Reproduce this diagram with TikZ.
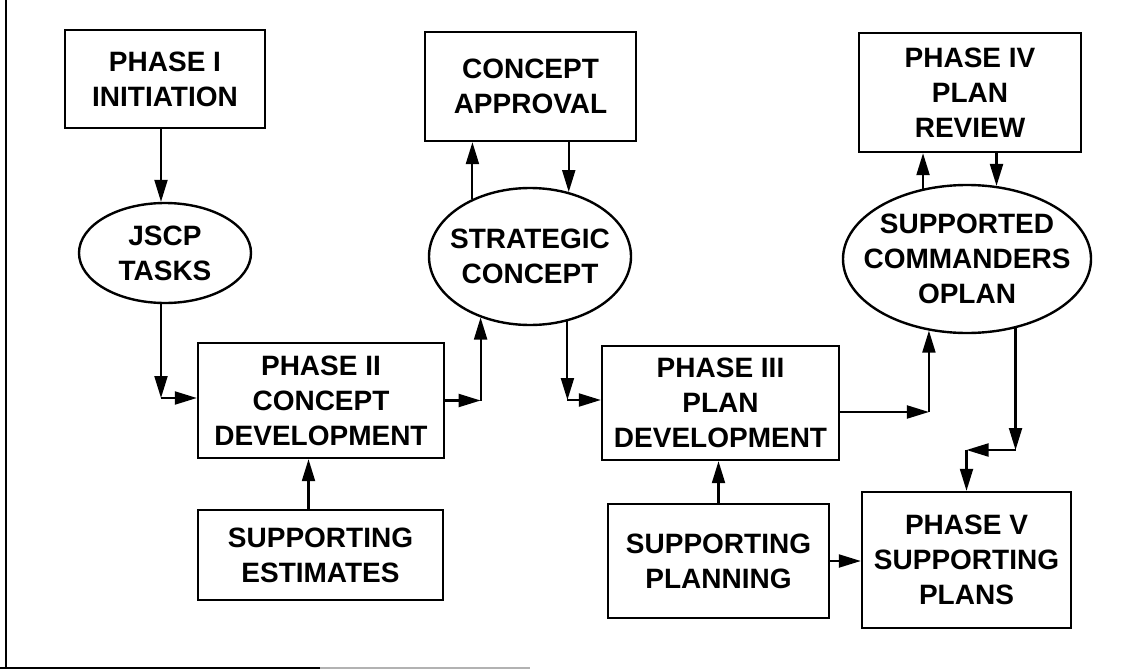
\documentclass[tikz,border=0pt]{standalone}
\usepackage{fontspec}
\setmainfont{Liberation Sans}
\usetikzlibrary{arrows.meta,shapes.geometric}
\begin{document}
\begin{tikzpicture}[x=1pt,y=-1pt,
  txt/.style={font=\bfseries\fontsize{28}{35}\selectfont, align=center, inner sep=0pt},
  box/.style={draw, line width=2.4pt, txt},
  ell/.style={draw, ellipse, line width=2.4pt, inner sep=0pt},
  arr/.style={line width=2.1pt, -{Triangle[length=22pt,width=13pt]}},
  frame/.style={line width=2.4pt}]
\useasboundingbox (0,0) rectangle (1134,669);
\fill[white] (0,0) rectangle (1134,669);
% frame
\draw[frame] (6,0) -- (6,668) -- (0,668);
\draw[frame] (0,668) -- (320,668);
\draw[frame, black!30] (320,668) -- (530,668);
% nodes
\node[box, minimum width=200pt, minimum height=98pt] (p1) at (165,79) {PHASE I\\INITIATION};
\node[ell, minimum width=172pt, minimum height=100pt] (jscp) at (165,253) {};
\node[txt] (jscpt) at (jscp) {JSCP\\TASKS};
\node[box, minimum width=246pt, minimum height=115pt] (p2) at (321,400.5) {PHASE II\\CONCEPT\\DEVELOPMENT};
\node[box, minimum width=245pt, minimum height=90pt] (est) at (320.5,555) {SUPPORTING\\ESTIMATES};
\node[box, minimum width=211pt, minimum height=109pt] (capp) at (530.5,86.5) {CONCEPT\\APPROVAL};
\node[ell, minimum width=202pt, minimum height=137pt] (strat) at (530,256.5) {};
\node[txt] (stratt) at (strat) {STRATEGIC\\CONCEPT};
\node[box, minimum width=237pt, minimum height=114pt] (p3) at (720.5,403) {PHASE III\\PLAN\\DEVELOPMENT};
\node[box, minimum width=221pt, minimum height=114pt] (splan) at (718.5,561) {SUPPORTING\\PLANNING};
\node[box, minimum width=222pt, minimum height=119pt] (p4) at (970,92.5) {PHASE IV\\PLAN\\REVIEW};
\node[ell, minimum width=248pt, minimum height=148pt] (sco) at (967,259) {};
\node[txt] (scot) at (sco) {SUPPORTED\\COMMANDERS\\OPLAN};
\node[box, minimum width=209pt, minimum height=136pt] (p5) at (966.5,560) {PHASE V\\SUPPORTING\\PLANS};
% connectors
\coordinate (a1) at ([xshift=-4pt]p1.south);
\coordinate (a2) at ([xshift=-4pt]jscp.north);
\draw[arr] (a1) -- (a2);
\coordinate (j1) at ([xshift=-4pt]jscp.south);
\draw[arr] (j1) -- (j1 |- 0,398) coordinate (c1);
\draw[arr] (c1) -- (c1 -| p2.west);
\draw[arr] (p2.east) -- (strat.231 |- p2.east) coordinate (c2);
\draw[arr] (c2) -- (strat.231);
\coordinate (e1) at ([xshift=-12pt]est.north);
\draw[arr] (e1) -- (e1 |- p2.south);
\draw[arr] (strat.135) -- (strat.135 |- capp.south);
\draw[arr] (strat.59 |- capp.south) -- (strat.59);
\draw[arr] (strat.300) -- (strat.300 |- 0,400) coordinate (c3);
\draw[arr] (c3) -- (c3 -| p3.west);
\draw[arr] (splan.north) -- (splan.north |- p3.south);
\coordinate (p3o) at ([yshift=-9pt]p3.east);
\draw[arr] (p3o) -- (sco.242 |- p3o) coordinate (c4);
\draw[arr] (c4) -- (sco.242);
\draw[arr] (sco.122) -- (sco.122 |- p4.south);
\draw[arr] (sco.68 |- p4.south) -- (sco.68);
\draw[arr] (sco.305) -- (sco.305 |- 0,450) coordinate (c5);
\draw[arr] (c5) -- (p5.north |- c5) coordinate (c6);
\draw[arr] (c6) -- (p5.north);
\draw[arr] (splan.east) -- (splan.east -| p5.west);
\end{tikzpicture}
\end{document}
